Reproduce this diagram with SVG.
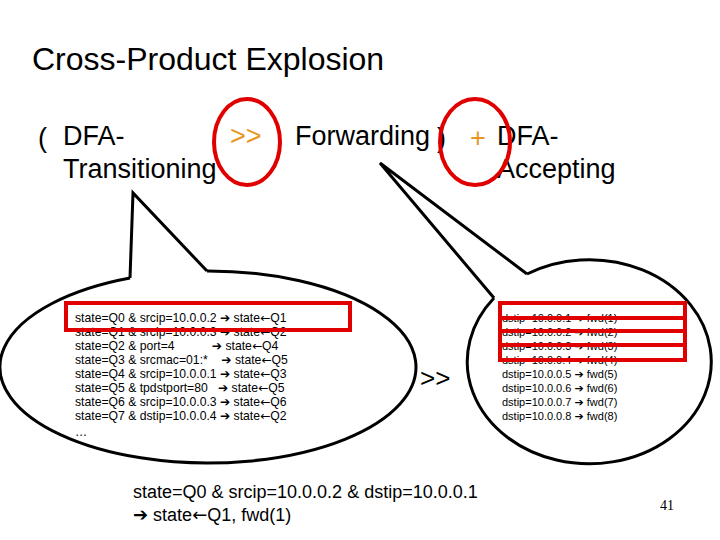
<svg xmlns="http://www.w3.org/2000/svg" width="720" height="540" viewBox="0 0 720 540">
<style>
.s{font-family:"Liberation Sans",Arial,sans-serif;fill:#000}
.h{font-size:27px}
.m{font-size:11px}
.ml{font-size:12.2px}
.o{fill:#E8971E}
.ln{fill:none;stroke:#000;stroke-width:3}
.r{fill:none;stroke:#E00000;stroke-width:4}
.a{font-family:"DejaVu Sans",sans-serif}
</style>
<rect width="720" height="540" fill="#fff"/>
<text class="s" x="32" y="70" font-size="32">Cross-Product Explosion</text>
<g id="expr">
<text class="s h" x="38" y="147">(</text>
<text class="s h" x="63" y="145">DFA-</text>
<text class="s h" x="63" y="178">Transitioning</text>
<text class="s h o" x="230" y="145">&gt;&gt;</text>
<text class="s h" x="295" y="145">Forwarding</text>
<text class="s h" x="437" y="147">)</text>
<text class="s h o" x="470" y="147">+</text>
<text class="s h" x="497" y="145">DFA-</text>
<text class="s h" x="497" y="178">Accepting</text>
<ellipse class="r" cx="247" cy="142" rx="33" ry="43"/>
<ellipse class="r" cx="475" cy="142" rx="35" ry="43"/>
</g>
<g id="connectors">
<path class="ln" d="M130,278 L133,193 L207,271"/>
<path class="ln" d="M527,274 L380,163 L494,298"/>
</g>
<g id="left-bubble">
<path class="ln" fill="#fff" d="M207,271 A208,96 0 1 1 130,278"/>
<g class="s ml">
<text x="75" y="322">state=Q0 &amp; srcip=10.0.0.2 <tspan class="a">➔</tspan> state<tspan class="a">←</tspan>Q1</text>
<text x="75" y="336">state=Q1 &amp; srcip=10.0.0.3 <tspan class="a">➔</tspan> state<tspan class="a">←</tspan>Q2</text>
<text x="75" y="350" xml:space="preserve">state=Q2 &amp; port=4           <tspan class="a">➔</tspan> state<tspan class="a">←</tspan>Q4</text>
<text x="75" y="364" xml:space="preserve">state=Q3 &amp; srcmac=01:*    <tspan class="a">➔</tspan> state<tspan class="a">←</tspan>Q5</text>
<text x="75" y="378">state=Q4 &amp; srcip=10.0.0.1 <tspan class="a">➔</tspan> state<tspan class="a">←</tspan>Q3</text>
<text x="75" y="392" xml:space="preserve">state=Q5 &amp; tpdstport=80   <tspan class="a">➔</tspan> state<tspan class="a">←</tspan>Q5</text>
<text x="75" y="406">state=Q6 &amp; srcip=10.0.0.3 <tspan class="a">➔</tspan> state<tspan class="a">←</tspan>Q6</text>
<text x="75" y="420">state=Q7 &amp; dstip=10.0.0.4 <tspan class="a">➔</tspan> state<tspan class="a">←</tspan>Q2</text>
<text x="75" y="436">…</text>
</g>
<rect class="r" x="66" y="303" width="284" height="27"/>
</g>
<text class="s" x="420" y="387" font-size="26">&gt;&gt;</text>
<g id="right-bubble">
<path class="ln" fill="#fff" d="M527,274 A122,102 0 1 1 494,298"/>
<g class="s m">
<text x="502" y="322">dstip=10.0.0.1 <tspan class="a">➔</tspan> fwd(1)</text>
<text x="502" y="336">dstip=10.0.0.2 <tspan class="a">➔</tspan> fwd(2)</text>
<text x="502" y="350">dstip=10.0.0.3 <tspan class="a">➔</tspan> fwd(3)</text>
<text x="502" y="364">dstip=10.0.0.4 <tspan class="a">➔</tspan> fwd(4)</text>
<text x="502" y="378">dstip=10.0.0.5 <tspan class="a">➔</tspan> fwd(5)</text>
<text x="502" y="392">dstip=10.0.0.6 <tspan class="a">➔</tspan> fwd(6)</text>
<text x="502" y="406">dstip=10.0.0.7 <tspan class="a">➔</tspan> fwd(7)</text>
<text x="502" y="420">dstip=10.0.0.8 <tspan class="a">➔</tspan> fwd(8)</text>
</g>
<rect class="r" x="500" y="303" width="185" height="15"/>
<rect class="r" x="500" y="318" width="185" height="13"/>
<rect class="r" x="500" y="331" width="185" height="14"/>
<rect class="r" x="500" y="345" width="185" height="15"/>
</g>
<g id="result" class="s" font-size="18">
<text x="133" y="498">state=Q0 &amp; srcip=10.0.0.2 &amp; dstip=10.0.0.1</text>
<text x="133" y="521"><tspan class="a">➔</tspan> state<tspan class="a">←</tspan>Q1, fwd(1)</text>
</g>
<text x="660" y="510" font-family="Liberation Serif,serif" font-size="14">41</text>
</svg>
